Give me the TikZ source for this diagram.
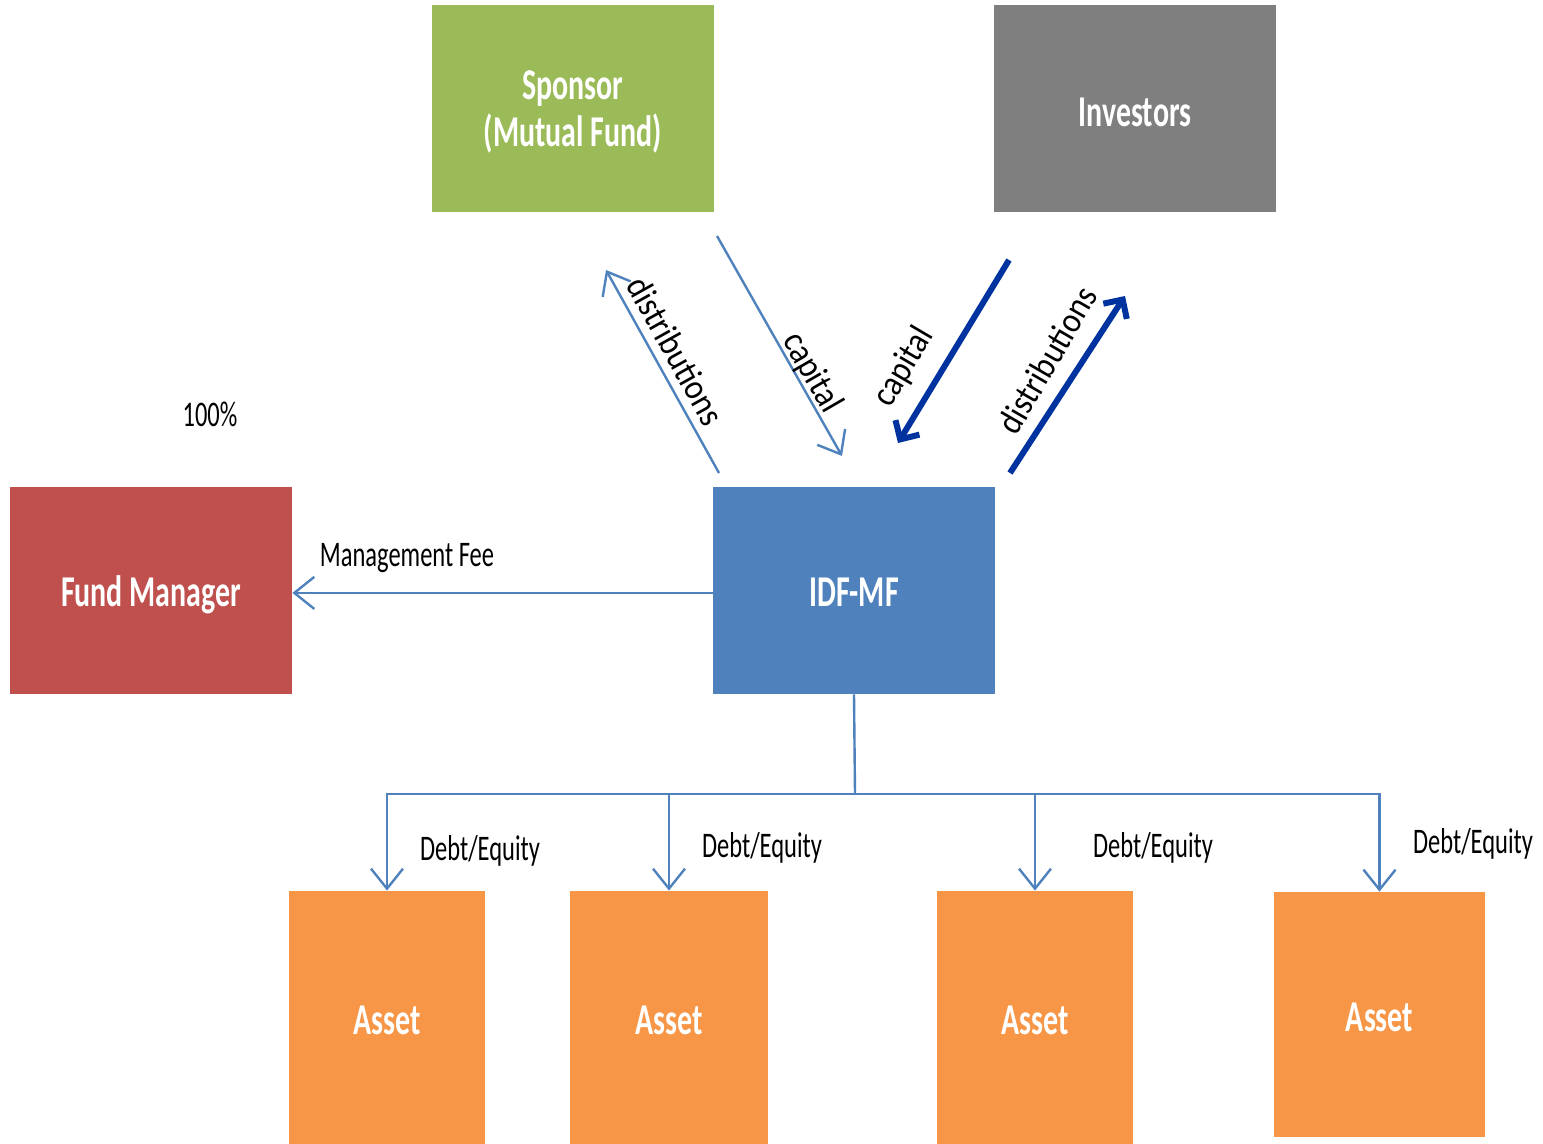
\documentclass[tikz,border=0pt]{standalone}
\usepackage{fontspec}
\setmainfont{Carlito}[FakeStretch=0.68]
\newfontfamily\rotfont{Carlito}[FakeStretch=0.89]
\usetikzlibrary{arrows.meta}
\definecolor{sgreen}{HTML}{9BBB59}
\definecolor{igray}{HTML}{7F7F7F}
\definecolor{fred}{HTML}{C0504D}
\definecolor{idfblue}{HTML}{4F81BD}
\definecolor{aorange}{HTML}{F79646}
\definecolor{lineblue}{HTML}{4F81BD}
\definecolor{darkarr}{HTML}{0033A0}
\newcommand{\lowertext}[2]{\raisebox{-#1}[\height][\depth]{#2}}
\begin{document}
\begin{tikzpicture}[x=0.5pt,y=-0.5pt,
  box/.style={draw=none, inner sep=0pt, text=white, align=center,
    font=\fontsize{22}{23}\selectfont\bfseries},
  thinline/.style={draw=lineblue, line width=1.2pt},
  thinarr/.style={thinline, -{Straight Barb[length=10pt,width=16pt]}},
  thickarr/.style={draw=darkarr, line width=3pt, -{Straight Barb[length=7pt,width=14pt]}},
  lbl/.style={font=\fontsize{18}{22}\selectfont, text=black, inner sep=0pt},
  rlbl/.style={font=\rotfont\fontsize{18}{22}\selectfont, text=black, inner sep=0pt}]
\useasboundingbox (0,0) rectangle (1543,1144);

% boxes
\node[box, fill=sgreen, minimum width=141pt, minimum height=103.5pt] (sponsor) at (573,108.5)
  {\lowertext{2.7pt}{\begin{tabular}{@{}c@{}}Sponsor\\(Mutual Fund)\end{tabular}}};
\node[box, fill=igray, minimum width=141pt, minimum height=103.5pt] (investors) at (1135,108.5) {\lowertext{2pt}{Investors}};
\node[box, fill=fred, minimum width=141pt, minimum height=103.5pt] (fm) at (151,590.5) {\lowertext{2pt}{Fund Manager}};
\node[box, fill=idfblue, minimum width=141pt, minimum height=103.5pt] (idf) at (854,590.5) {\lowertext{1pt}{IDF-MF}};
\node[box, fill=aorange, minimum width=98pt, minimum height=126.5pt] (a1) at (387,1017.5) {\lowertext{1.5pt}{Asset}};
\node[box, fill=aorange, minimum width=99pt, minimum height=126.5pt] (a2) at (669,1017.5) {\lowertext{1.5pt}{Asset}};
\node[box, fill=aorange, minimum width=98pt, minimum height=126.5pt] (a3) at (1035,1017.5) {\lowertext{1.5pt}{Asset}};
\node[box, fill=aorange, minimum width=105.5pt, minimum height=122.5pt] (a4) at (1379.5,1014.5) {\lowertext{1.5pt}{Asset}};

% free connector ends
\coordinate (dl1) at (719,473);
\coordinate (dl2) at (606,270);
\coordinate (cl1) at (717,236);
\coordinate (cl2) at (842,456);
\coordinate (cr1) at (1009,260);
\coordinate (cr2) at (898,443);
\coordinate (dr1) at (1010,473);
\coordinate (dr2) at (1125,296);
\coordinate (bus) at (855,794);

% connectors
\draw[thinarr] (dl1) -- (dl2);
\draw[thinarr] (cl1) -- (cl2);
\draw[thickarr] (cr1) -- (cr2);
\draw[thickarr] (dr1) -- (dr2);
\draw[thinarr] ([yshift=-1.2pt]idf.west) -- ([yshift=-1.2pt]fm.east);
\draw[thinline] (idf.south) -- (bus);
\draw[thinarr] (bus) -| (a1.north);
\draw[thinarr] (bus) -| (a2.north);
\draw[thinarr] (bus) -| (a3.north);
\draw[thinarr] (bus) -| (a4.north);

% labels
\node[rlbl, rotate=-60.8] (ldist) at (676,351) {distributions};
\node[rlbl, rotate=-60] (lcap) at (812,373) {capital};
\node[rlbl, rotate=59.6] (rcap) at (904,367) {capital};
\node[rlbl, rotate=59.9] (rdist) at (1047,360) {distributions};
\node[lbl] (pct) at (210,414) {100\%};
\node[lbl] (mfee) at (407,558) {Management Fee};
\node[lbl] (de1) at (480,851) {Debt/Equity};
\node[lbl] (de2) at (762,848) {Debt/Equity};
\node[lbl] (de3) at (1153,848) {Debt/Equity};
\node[lbl] (de4) at (1473,844) {Debt/Equity};
\end{tikzpicture}
\end{document}
